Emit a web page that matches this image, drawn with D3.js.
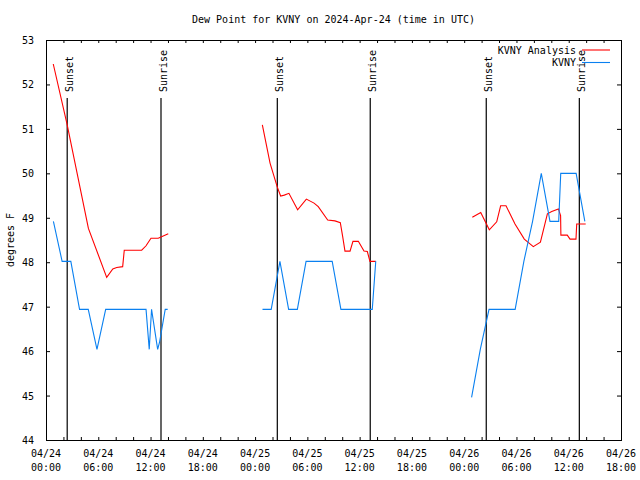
<!DOCTYPE html>
<html>
<head>
<meta charset="utf-8">
<script src="https://cdn.jsdelivr.net/npm/d3@7"></script>
<style>
  html, body { margin: 0; padding: 0; background: #fff; }
  svg text { font-family: "DejaVu Sans Mono", monospace; font-size: 10px; fill: #000; }
</style>
</head>
<body>
<svg id="chart" width="640" height="480"></svg>
<script>
// ---- data ----
const titleText = "Dew Point for KVNY on 2024-Apr-24 (time in UTC)";
const yLabel = "degrees F";
const seriesNames = ["KVNY Analysis", "KVNY"];
const yTicks = [44, 45, 46, 47, 48, 49, 50, 51, 52, 53];
const xDomain = ["2024-04-24T00:00", "2024-04-26T18:00"];

const anaTimes = [
  "2024-04-24T00:50","2024-04-24T02:26","2024-04-24T04:52","2024-04-24T06:58","2024-04-24T07:40",
  "2024-04-24T08:07","2024-04-24T08:48","2024-04-24T08:59","2024-04-24T10:59","2024-04-24T11:29",
  "2024-04-24T12:03","2024-04-24T12:53","2024-04-24T14:02",
  "2024-04-24T20:00",
  "2024-04-25T00:50","2024-04-25T01:43","2024-04-25T02:33","2024-04-25T02:56","2024-04-25T03:21",
  "2024-04-25T03:53","2024-04-25T04:53","2024-04-25T05:53","2024-04-25T06:46","2024-04-25T07:15",
  "2024-04-25T08:20","2024-04-25T09:10","2024-04-25T09:47","2024-04-25T10:03","2024-04-25T10:19",
  "2024-04-25T10:54","2024-04-25T11:14","2024-04-25T11:51","2024-04-25T12:30","2024-04-25T12:53",
  "2024-04-25T13:11","2024-04-25T13:51",
  "2024-04-25T20:00",
  "2024-04-26T00:56","2024-04-26T01:54","2024-04-26T02:53","2024-04-26T03:44","2024-04-26T04:11",
  "2024-04-26T04:48","2024-04-26T05:50","2024-04-26T06:54","2024-04-26T07:56","2024-04-26T08:45",
  "2024-04-26T09:33","2024-04-26T10:03","2024-04-26T10:49","2024-04-26T11:04","2024-04-26T11:06",
  "2024-04-26T11:50","2024-04-26T12:09","2024-04-26T12:50","2024-04-26T12:55","2024-04-26T13:57"
];
const anaValues = [
  52.46,51.09,48.76,47.66,47.85,47.88,47.90,48.27,48.27,48.37,48.54,48.54,48.64,
  null,
  51.09,50.23,49.69,49.49,49.51,49.55,49.18,49.42,49.33,49.25,48.95,48.93,48.89,48.58,48.25,
  48.25,48.47,48.47,48.25,48.24,48.02,48.02,
  null,
  49.01,49.12,48.73,48.91,49.27,49.27,48.86,48.52,48.35,48.45,49.09,49.14,49.20,49.05,48.61,
  48.61,48.52,48.52,48.86,48.86
];

const obsTimes = [
  "2024-04-24T00:51","2024-04-24T01:51","2024-04-24T02:51","2024-04-24T03:51","2024-04-24T04:51",
  "2024-04-24T05:51","2024-04-24T06:51","2024-04-24T07:51","2024-04-24T08:51","2024-04-24T09:51",
  "2024-04-24T10:51","2024-04-24T11:29","2024-04-24T11:51","2024-04-24T12:07","2024-04-24T12:49",
  "2024-04-24T13:02","2024-04-24T13:41","2024-04-24T13:58",
  "2024-04-24T20:00",
  "2024-04-25T00:51","2024-04-25T01:51","2024-04-25T02:51","2024-04-25T03:51","2024-04-25T04:51",
  "2024-04-25T05:51","2024-04-25T06:51","2024-04-25T07:51","2024-04-25T08:51","2024-04-25T09:51",
  "2024-04-25T10:51","2024-04-25T11:51","2024-04-25T12:51","2024-04-25T13:27","2024-04-25T13:51",
  "2024-04-25T20:00",
  "2024-04-26T00:51","2024-04-26T01:51","2024-04-26T02:51","2024-04-26T03:51","2024-04-26T04:51",
  "2024-04-26T05:51","2024-04-26T06:51","2024-04-26T07:51","2024-04-26T08:51","2024-04-26T09:51",
  "2024-04-26T10:51","2024-04-26T11:05","2024-04-26T11:51","2024-04-26T12:51","2024-04-26T13:51"
];
const obsValues = [
  48.92,48.02,48.02,46.94,46.94,46.04,46.94,46.94,46.94,46.94,46.94,46.94,46.04,46.94,46.04,
  46.20,46.94,46.94,
  null,
  46.94,46.94,48.02,46.94,46.94,48.02,48.02,48.02,48.02,46.94,46.94,46.94,46.94,46.94,48.02,
  null,
  44.96,46.04,46.94,46.94,46.94,46.94,48.02,48.92,50.00,48.92,48.92,50.00,50.00,50.00,48.92
];

const sunsetTimes = ["2024-04-24T02:26", "2024-04-25T02:33", "2024-04-26T02:32"];
const sunriseTimes = ["2024-04-24T13:12", "2024-04-25T13:13", "2024-04-26T13:13"];

// ---- drawing ----
const parse = d3.utcParse("%Y-%m-%dT%H:%M");
const svg = d3.select("#chart");
const W = 640, H = 480;
const m = { left: 46, right: 19, top: 40, bottom: 40 };
const x = d3.scaleUtc().domain(xDomain.map(parse)).range([m.left, W - m.right]);
const y = d3.scaleLinear().domain([44, 53]).range([H - m.bottom, m.top]);

const colors = ["#ff0000", "#0a80f0"];

// title
svg.append("text").attr("x", (x.range()[0] + x.range()[1]) / 2).attr("y", 23)
  .attr("text-anchor", "middle").text(titleText);

// y label
svg.append("text").attr("transform", "translate(14,240) rotate(-90)")
  .attr("text-anchor", "middle").text(yLabel);

// x axis ticks every 2h, labels every 6h
const xTickVals = d3.utcHour.every(2).range(x.domain()[0], new Date(+x.domain()[1] + 1));
const fmtDate = d3.utcFormat("%m/%d"), fmtTime = d3.utcFormat("%H:%M");

const gx = svg.append("g").attr("transform", `translate(0,${y.range()[0]})`)
  .call(d3.axisBottom(x).tickValues(xTickVals).tickSizeInner(-3).tickSizeOuter(0).tickFormat(() => ""));
gx.select(".domain").remove();
gx.selectAll("line").attr("stroke", "#000");

const gxt = svg.append("g").attr("transform", `translate(0,${y.range()[1]})`)
  .call(d3.axisTop(x).tickValues(xTickVals).tickSizeInner(-3).tickSizeOuter(0).tickFormat(() => ""));
gxt.select(".domain").remove();

const labelTicks = xTickVals.filter(d => d.getUTCHours() % 6 === 0);
const xl = svg.append("g").selectAll("text").data(labelTicks).join("text")
  .attr("text-anchor", "middle")
  .attr("transform", d => `translate(${x(d)},0)`);
xl.append("tspan").attr("x", 0).attr("y", 457).text(d => fmtDate(d));
xl.append("tspan").attr("x", 0).attr("y", 471).text(d => fmtTime(d));

// y axes
const gy = svg.append("g").attr("transform", `translate(${x.range()[0]},0)`)
  .call(d3.axisLeft(y).tickValues(yTicks).tickSizeInner(-4).tickSizeOuter(0).tickPadding(12).tickFormat(d3.format("d")));
gy.select(".domain").remove();
gy.selectAll("text").attr("font-family", null).attr("font-size", null).attr("dy", "0.35em");

const gyr = svg.append("g").attr("transform", `translate(${x.range()[1]},0)`)
  .call(d3.axisRight(y).tickValues(yTicks).tickSizeInner(-4).tickSizeOuter(0).tickFormat(() => ""));
gyr.select(".domain").remove();

svg.selectAll(".tick line").attr("stroke", "#000");
svg.selectAll("g").attr("font-family", null).attr("font-size", null);

// frame
svg.append("rect").attr("x", x.range()[0] + 0.5).attr("y", y.range()[1] + 0.5)
  .attr("width", x.range()[1] - x.range()[0]).attr("height", y.range()[0] - y.range()[1])
  .attr("fill", "none").attr("stroke", "#000").attr("stroke-width", 1);

// sunrise / sunset lines
const sunEvents = sunsetTimes.map(t => ({ t: parse(t), label: "Sunset" }))
  .concat(sunriseTimes.map(t => ({ t: parse(t), label: "Sunrise" })));
const sg = svg.append("g");
sg.selectAll("line").data(sunEvents).join("line")
  .attr("x1", d => x(d.t)).attr("x2", d => x(d.t))
  .attr("y1", 98).attr("y2", y.range()[0])
  .attr("stroke", "#000").attr("stroke-width", 1.2);
sg.selectAll("text").data(sunEvents).join("text")
  .attr("transform", d => `translate(${x(d.t) + 5.5},92) rotate(-90)`)
  .attr("text-anchor", "start").text(d => d.label);

// series
const line = d3.line().defined(d => d.v !== null).x(d => x(d.t)).y(d => y(d.v));
const series = [
  anaTimes.map((t, i) => ({ t: parse(t), v: anaValues[i] })),
  obsTimes.map((t, i) => ({ t: parse(t), v: obsValues[i] }))
];
svg.append("g").selectAll("path").data(series).join("path")
  .attr("d", line).attr("fill", "none")
  .attr("stroke", (d, i) => colors[i]).attr("stroke-width", 1.1);

// legend
const lg = svg.append("g").selectAll("g").data(seriesNames).join("g")
  .attr("transform", (d, i) => `translate(0,${50 + i * 12.5})`);
lg.append("text").attr("x", 576).attr("y", 0).attr("dy", "0.35em").attr("text-anchor", "end").text(d => d);
lg.append("line").attr("x1", 582).attr("x2", 610).attr("y1", 0).attr("y2", 0)
  .attr("stroke", (d, i) => colors[i]).attr("stroke-width", 1.1);
</script>
</body>
</html>
